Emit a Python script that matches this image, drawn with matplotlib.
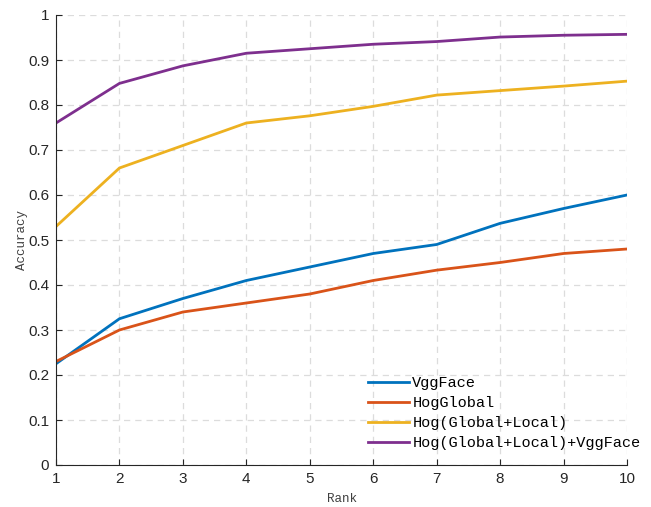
import matplotlib.pyplot as plt
import numpy as np

rank = np.arange(1, 11)
vggface = [0.225, 0.325, 0.37, 0.41, 0.44, 0.47, 0.49, 0.537, 0.57, 0.60]
hog_global = [0.23, 0.30, 0.34, 0.36, 0.38, 0.41, 0.433, 0.45, 0.47, 0.48]
hog_gl = [0.53, 0.66, 0.71, 0.76, 0.776, 0.797, 0.822, 0.832, 0.842, 0.853]
hog_gl_vgg = [0.76, 0.848, 0.887, 0.915, 0.925, 0.935, 0.941, 0.951, 0.955, 0.957]
labels = ['VggFace', 'HogGlobal', 'Hog(Global+Local)', 'Hog(Global+Local)+VggFace']
colors = ['#0072BD', '#D95319', '#EDB120', '#7E2F8E']

plt.rcParams['font.family'] = 'Liberation Sans'
fig = plt.figure(figsize=(6.51, 5.07), dpi=100)
ax = fig.add_axes([56/651, 42/507, 571/651, 450/507])

for series, lab, c in zip([vggface, hog_global, hog_gl, hog_gl_vgg], labels, colors):
    ax.plot(rank, series, color=c, lw=2, label=lab)

ax.set_xlim(1, 10)
ax.set_ylim(0, 1)
ax.set_xticks(rank)
ax.set_yticks(np.arange(0, 1.01, 0.1))
ax.set_yticklabels(['0', '0.1', '0.2', '0.3', '0.4', '0.5', '0.6', '0.7', '0.8', '0.9', '1'])
ax.grid(True, ls=(0, (5, 4)), color='#dcdcdc', lw=0.9)
ax.spines['top'].set_visible(False)
ax.spines['right'].set_visible(False)
for s in ['left', 'bottom']:
    ax.spines[s].set_color('#262626')
    ax.spines[s].set_linewidth(0.8)
ax.tick_params(direction='in', length=4, labelsize=11, colors='#262626', pad=5)

ax.set_xlabel('Rank', family='Liberation Mono', fontsize=9, color='#404040', labelpad=5)
ax.set_ylabel('Accuracy', family='Liberation Mono', fontsize=9, color='#404040', labelpad=0)

leg = ax.legend(loc='upper left', bbox_to_anchor=((362 - 56) / 571, (465 - 370) / 450),
                frameon=False, prop={'family': 'Liberation Mono', 'size': 11},
                handlelength=2.7, handletextpad=0.2, labelspacing=0.4, borderaxespad=0)

fig.savefig('out.png', dpi=100)
